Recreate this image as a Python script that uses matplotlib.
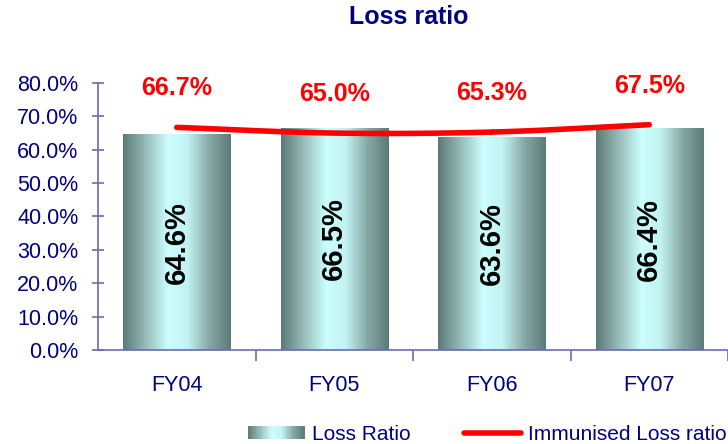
import numpy as np
import matplotlib
matplotlib.use("Agg")
import matplotlib.pyplot as plt
from matplotlib.colors import LinearSegmentedColormap
from matplotlib.legend_handler import HandlerBase
from matplotlib.patches import Rectangle, Patch
from matplotlib.lines import Line2D
from matplotlib.ticker import FuncFormatter, FixedLocator

plt.rcParams['font.family'] = ['Liberation Sans', 'DejaVu Sans']

categories = ["FY04", "FY05", "FY06", "FY07"]
loss_ratio = [64.6, 66.5, 63.6, 66.4]
immunised = [66.7, 65.0, 65.3, 67.5]
yticks = [0, 10, 20, 30, 40, 50, 60, 70, 80]

navy = "#000080"
axis_col = "#6b6bb5"
cmap = LinearSegmentedColormap.from_list(
    "bar", [(0.0, "#5c7a77"), (0.2, "#94b8b5"), (0.42, "#ccffff"), (0.6, "#c2f2f2"), (0.8, "#87a9a6"), (1.0, "#5c7a77")])

fig = plt.figure(figsize=(7.28, 4.44), dpi=100)
ax = fig.add_axes([98/728, 94/444, 630/728, 267/444])

x = np.arange(len(categories))
bars = ax.bar(x, loss_ratio, width=0.68, facecolor="none", edgecolor="none", zorder=2)
grad = np.linspace(0, 1, 256).reshape(1, -1)
for b in bars:
    x0, w, h = b.get_x(), b.get_width(), b.get_height()
    ax.imshow(grad, cmap=cmap, aspect="auto", extent=(x0, x0 + w, 0, h), zorder=2, interpolation="bilinear")

for xi, v in zip(x, loss_ratio):
    ax.text(xi, v / 2, f"{v:.1f}%", rotation=90, ha="center", va="center",
            fontsize=21, fontweight="bold", color="black", zorder=4)

# smooth line (Catmull-Rom through the data points)
px = np.array(x, dtype=float)
py = np.array(immunised, dtype=float)
P = np.vstack([px, py]).T
Pext = np.vstack([P[0] - (P[1] - P[0]), P, P[-1] + (P[-1] - P[-2])])
cx, cy = [], []
for i in range(1, len(Pext) - 2):
    p0, p1, p2, p3 = Pext[i - 1], Pext[i], Pext[i + 1], Pext[i + 2]
    for t in np.linspace(0, 1, 30):
        t2, t3 = t * t, t * t * t
        pt = 0.5 * ((2 * p1) + (-p0 + p2) * t + (2 * p0 - 5 * p1 + 4 * p2 - p3) * t2 + (-p0 + 3 * p1 - 3 * p2 + p3) * t3)
        cx.append(pt[0]); cy.append(pt[1])
ax.plot(cx, cy, color="red", lw=4, solid_capstyle="round", zorder=3)

for xi, v in zip(x, immunised):
    ax.annotate(f"{v:.1f}%", (xi, v), xytext=(0, 28), textcoords="offset points",
                ha="center", va="center", fontsize=18, fontweight="bold", color="red")

ax.set_xlim(-0.5, 3.5)
ax.set_ylim(0, 80)
ax.set_yticks(yticks)
ax.yaxis.set_major_formatter(FuncFormatter(lambda v, p: f"{v:.1f}%"))
ax.set_xticks(x)
ax.set_xticklabels(categories)
ax.xaxis.set_minor_locator(FixedLocator([0.5, 1.5, 2.5, 3.5]))
ax.tick_params(axis="x", which="major", length=0, pad=18, labelsize=15.5, labelcolor=navy)
ax.tick_params(axis="x", which="minor", length=8, direction="out", color=axis_col, width=1.2)
ax.tick_params(axis="y", length=8, direction="inout", color=axis_col, width=1.2, labelsize=15.5, labelcolor=navy, pad=10)
for s in ["top", "right"]:
    ax.spines[s].set_visible(False)
for s in ["left", "bottom"]:
    ax.spines[s].set_color(axis_col)
    ax.spines[s].set_linewidth(1.2)

fig.text(409/728, 1 - 17/444, "Loss ratio", ha="center", va="center", fontsize=18, fontweight="bold", color=navy)


class GradHandler(HandlerBase):
    def create_artists(self, legend, orig_handle, xdescent, ydescent, width, height, fontsize, trans):
        n = 40
        arts = []
        for i in range(n):
            r = Rectangle((-xdescent + i * width / n, -ydescent), width / n + 0.3, height,
                          facecolor=cmap((i + 0.5) / n), edgecolor="none", transform=trans)
            arts.append(r)
        return arts


h1 = Patch(label="Loss Ratio")
h2 = Line2D([], [], color="red", lw=4, solid_capstyle="round", label="Immunised Loss ratio")
leg = fig.legend([h1, h2], ["Loss Ratio", "Immunised Loss ratio"], handler_map={Patch: GradHandler()},
                 loc="center left", bbox_to_anchor=(248/728, 1 - 434/444), ncol=2, frameon=False,
                 fontsize=15, handlelength=2.7, handleheight=0.6, columnspacing=2.6, handletextpad=0.35,
                 borderpad=0, borderaxespad=0)
for t in leg.get_texts():
    t.set_color(navy)

fig.savefig("out.png", dpi=100)
